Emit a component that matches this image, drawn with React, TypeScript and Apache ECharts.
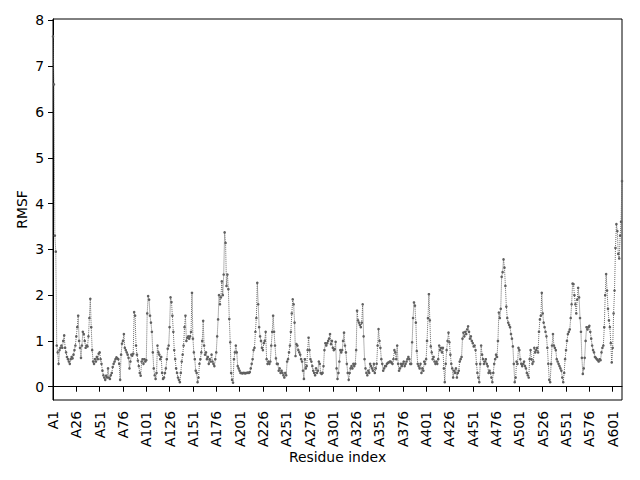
import React, { useEffect, useRef } from "react";
import * as echarts from "echarts";

// RMSF values, residue A1 .. A611
const rmsf001to100 = [
  7.65, 6.6, 3.3, 2.95, 0.9, 0.75, 0.5, 0.8, 0.85, 0.9, 0.85, 1.0, 1.12, 0.85, 0.75, 0.65, 0.6, 0.55, 0.5, 0.6, 0.65, 0.62, 0.7, 0.8, 0.9,
  1.1, 1.3, 1.55, 1.0, 0.85, 0.63, 0.9, 1.2, 1.15, 1.0, 0.85, 0.9, 0.88, 1.1, 1.5, 1.92, 1.3, 0.8, 0.55, 0.5, 0.6, 0.55, 0.65, 0.6, 0.72,
  0.75, 0.6, 0.5, 0.35, 0.25, 0.2, 0.15, 0.24, 0.2, 0.4, 0.2, 0.17, 0.25, 0.3, 0.43, 0.5, 0.55, 0.6, 0.64, 0.62, 0.6, 0.5, 0.15, 0.7, 0.94,
  1.0, 1.15, 0.85, 0.8, 0.75, 0.7, 0.63, 0.4, 0.55, 0.7, 0.68, 0.72, 1.63, 1.55, 0.9, 0.7, 0.57, 0.45, 0.3, 0.24, 0.55, 0.6, 0.5, 0.6, 0.55,
];
const rmsf101to200 = [
  0.58, 1.6, 1.98, 1.9, 1.55, 1.4, 1.2, 0.75, 0.4, 0.25, 0.17, 0.3, 0.9, 0.75, 0.7, 0.6, 0.65, 0.3, 0.17, 0.2, 0.3, 0.4, 0.6, 0.83, 0.9,
  1.3, 1.95, 1.85, 1.55, 1.2, 0.8, 0.6, 0.4, 0.3, 0.2, 0.15, 0.1, 0.3, 0.55, 0.7, 0.9, 1.3, 1.55, 1.0, 1.07, 1.1, 1.05, 1.1, 1.2, 2.05,
  1.05, 0.75, 0.6, 0.35, 0.3, 0.1, 0.2, 0.5, 0.6, 0.75, 1.0, 1.44, 0.9, 0.7, 0.75, 0.6, 0.65, 0.5, 0.6, 0.55, 0.7, 0.55, 0.5, 0.45, 0.6,
  0.75, 1.1, 1.47, 2.0, 1.8, 1.95, 2.3, 2.0, 2.45, 3.37, 3.14, 2.2, 2.45, 2.13, 1.48, 0.97, 0.3, 0.15, 0.09, 0.6, 0.75, 0.9, 0.75, 0.45, 0.4,
];
const rmsf201to300 = [
  0.35, 0.3, 0.3, 0.29, 0.3, 0.3, 0.29, 0.3, 0.3, 0.31, 0.3, 0.32, 0.4, 0.5, 0.6, 0.8, 0.85, 1.2, 1.5, 2.27, 1.8, 1.3, 1.1, 1.0, 0.85,
  0.8, 0.95, 1.0, 1.2, 0.6, 0.5, 0.55, 0.5, 0.55, 0.9, 1.2, 1.55, 1.2, 0.9, 0.62, 0.5, 0.5, 0.35, 0.4, 0.3, 0.35, 0.3, 0.25, 0.2, 0.3,
  0.25, 0.55, 0.6, 0.75, 0.9, 1.2, 1.6, 1.91, 1.8, 1.4, 0.67, 0.93, 0.9, 0.8, 0.75, 0.7, 0.6, 0.55, 0.35, 0.17, 0.6, 0.4, 0.45, 0.8, 1.07,
  0.8, 0.6, 0.55, 0.45, 0.35, 0.3, 0.25, 0.4, 0.3, 0.35, 0.55, 0.5, 0.3, 0.28, 0.3, 0.45, 0.8, 0.95, 0.9, 0.95, 1.0, 1.05, 1.15, 0.93, 1.0,
];
const rmsf301to400 = [
  0.85, 0.8, 0.82, 0.98, 0.4, 0.17, 0.3, 0.55, 0.8, 0.75, 0.8, 1.0, 1.18, 0.9, 0.75, 0.5, 0.3, 0.15, 0.3, 0.4, 0.45, 0.4, 0.5, 0.45, 0.5,
  0.8, 1.66, 1.45, 1.4, 1.35, 1.3, 1.4, 1.8, 1.1, 0.6, 0.4, 0.3, 0.25, 0.35, 0.3, 0.5, 0.45, 0.4, 0.35, 0.5, 0.3, 0.4, 0.5, 0.9, 1.26,
  1.0, 0.85, 0.6, 0.5, 0.35, 0.4, 0.45, 0.45, 0.5, 0.52, 0.53, 0.55, 0.55, 0.52, 0.5, 0.6, 0.8, 0.75, 0.6, 0.9, 0.5, 0.35, 0.4, 0.5, 0.45,
  0.5, 0.55, 0.45, 0.5, 0.55, 0.6, 0.65, 0.6, 0.5, 0.5, 0.97, 1.5, 1.84, 1.77, 1.4, 0.78, 0.5, 0.45, 0.4, 0.5, 0.3, 0.4, 0.35, 0.55, 0.5,
];
const rmsf401to500 = [
  0.6, 1.0, 1.5, 2.02, 1.45, 0.88, 0.75, 0.6, 0.65, 0.55, 0.5, 0.55, 0.5, 0.6, 0.9, 0.8, 0.85, 0.75, 0.85, 0.4, 0.1, 0.5, 0.8, 1.0, 1.18,
  0.97, 0.7, 0.5, 0.4, 0.2, 0.35, 0.3, 0.4, 0.2, 0.3, 0.35, 0.55, 0.6, 0.65, 1.05, 1.18, 1.1, 1.2, 1.15, 1.25, 1.32, 1.2, 1.05, 1.1, 1.0,
  0.95, 0.88, 0.9, 0.8, 0.5, 0.3, 0.2, 0.1, 0.5, 0.9, 0.7, 0.6, 0.5, 0.55, 0.6, 0.5, 0.45, 0.3, 0.35, 0.3, 0.2, 0.1, 0.3, 0.5, 0.6,
  0.7, 0.65, 1.0, 1.62, 1.5, 1.7, 2.4, 2.5, 2.78, 2.6, 2.2, 1.75, 1.5, 1.4, 1.35, 1.3, 1.15, 1.05, 0.88, 0.5, 0.1, 0.2, 0.55, 0.5, 0.85,
];
const rmsf501to611 = [
  0.8, 0.6, 0.5, 0.45, 0.5, 0.55, 0.45, 0.4, 0.3, 0.25, 0.2, 0.6, 0.8, 0.6, 0.5, 0.55, 0.85, 0.75, 0.8, 0.85, 0.75, 1.2, 1.47, 1.55, 2.05,
  1.6, 1.4, 1.3, 1.2, 1.1, 0.85, 0.5, 0.15, 0.1, 0.5, 0.9, 1.15, 0.9, 0.85, 0.8, 0.6, 0.55, 0.5, 0.45, 0.4, 0.35, 0.2, 0.1, 0.3, 0.6,
  0.8, 1.0, 1.15, 1.2, 1.25, 1.5, 1.8, 2.25, 2.24, 2.0, 1.8, 1.6, 1.9, 2.16, 1.95, 1.5, 1.2, 0.63, 0.28, 0.4, 0.63, 1.0, 1.3, 1.25, 1.3,
  1.33, 1.2, 1.05, 0.9, 0.8, 0.75, 0.65, 0.63, 0.6, 0.58, 0.55, 0.6, 0.58, 0.75, 0.85, 0.9, 1.3, 2.0, 2.46, 2.1, 1.7, 1.45, 1.3, 0.95, 0.53,
  0.85, 1.6, 2.1, 3.03, 3.55, 3.4, 2.9, 2.8, 3.3, 3.6, 4.49,
];

const rmsf = [
  ...rmsf001to100,
  ...rmsf101to200,
  ...rmsf201to300,
  ...rmsf301to400,
  ...rmsf401to500,
  ...rmsf501to611,
];

// tick residues shown on the x axis (labels "A<n>")
const tickResidues = [1, 26, 51, 76, 101, 126, 151, 176, 201, 226, 251, 276, 301, 326, 351, 376, 401, 426, 451, 476, 501, 526, 551, 576, 601];
const yTicks = [0, 1, 2, 3, 4, 5, 6, 7, 8];

const FONT = "DejaVu Sans";
const FS = 13.9;

export default function App() {
  const ref = useRef<HTMLDivElement>(null);
  useEffect(() => {
    document.body.style.margin = "0";
    const chart = echarts.init(ref.current!, null, { renderer: "svg" });
    const tickPos = tickResidues.map((r) => r - 1);
    chart.setOption({
      animation: false,
      backgroundColor: "#ffffff",
      grid: {
        left: 53,
        right: 18,
        top: 19,
        bottom: 80,
        show: true,
        borderColor: "#000",
        borderWidth: 1,
        backgroundColor: "transparent",
      },
      xAxis: {
        type: "value",
        min: 0,
        max: rmsf.length - 1,
        name: "Residue index",
        nameLocation: "middle",
        nameGap: 50,
        nameMoveOverlap: false,
        nameTextStyle: { color: "#000", fontSize: FS, fontFamily: FONT },
        axisLine: { show: true, lineStyle: { color: "#000", width: 1 } },
        axisTick: { show: true, length: 5, customValues: tickPos, lineStyle: { color: "#000", width: 1 } },
        axisLabel: {
          customValues: tickPos,
          rotate: 90,
          margin: 11,
          color: "#000",
          fontSize: FS,
          fontFamily: FONT,
          formatter: (v: number) => "A" + (Math.round(v) + 1),
        },
        splitLine: { show: false },
      },
      yAxis: {
        type: "value",
        min: -0.29,
        max: 8.03,
        name: "RMSF",
        nameLocation: "middle",
        nameGap: 24,
        nameMoveOverlap: false,
        nameTextStyle: { color: "#000", fontSize: FS, fontFamily: FONT },
        axisLine: { show: true, lineStyle: { color: "#000", width: 1 } },
        axisTick: { show: true, length: 5, customValues: yTicks, lineStyle: { color: "#000", width: 1 } },
        axisLabel: {
          customValues: yTicks,
          margin: 9,
          color: "#000",
          fontSize: FS,
          fontFamily: FONT,
          formatter: (v: number) => String(Math.round(v)),
        },
        splitLine: { show: false },
      },
      series: [
        {
          type: "line",
          data: rmsf.map((v, i) => [i, v]),
          symbol: "circle",
          symbolSize: 2.6,
          showAllSymbol: true,
          itemStyle: { color: "#5f5f5f" },
          lineStyle: { color: "#6a6a6a", width: 1, type: "dotted" },
          emphasis: { disabled: true },
        },
      ],
    });
    return () => chart.dispose();
  }, []);
  return <div ref={ref} style={{ width: 640, height: 480 }} />;
}
